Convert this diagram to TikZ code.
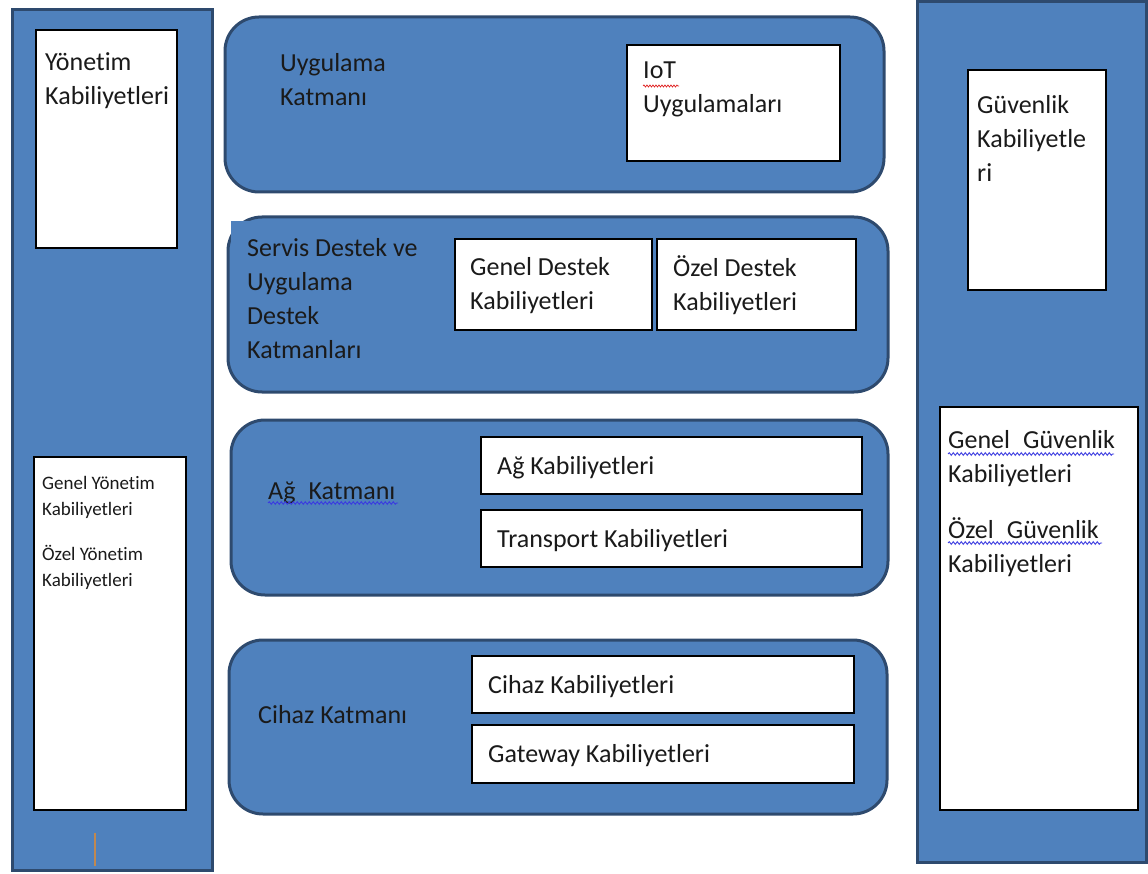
\documentclass[tikz,border=0pt]{standalone}
\usepackage{fontspec}
\setmainfont{Carlito}[Ligatures=NoCommon]
\usetikzlibrary{decorations.pathmorphing}
\definecolor{layerfill}{HTML}{4F81BD}
\definecolor{layerline}{HTML}{2E4A6E}
\definecolor{txtcol}{HTML}{1A1A1A}
\definecolor{spellblue}{HTML}{3A3AE0}
\definecolor{spellred}{HTML}{E02020}
\definecolor{cursorcol}{HTML}{C08850}
\tikzset{
  column/.style={draw=layerline, fill=layerfill, line width=3pt, inner sep=0pt},
  layer/.style={draw=layerline, fill=layerfill, line width=3pt, rounded corners=34pt, inner sep=0pt},
  wbox/.style={draw=black, fill=white, line width=1.3pt, inner sep=0pt},
  txt/.style={text=txtcol, inner sep=0pt, align=left, anchor=west, yshift=-5pt,
    font=\fontsize{26}{34}\selectfont,
    execute at begin node=\strut, execute at end node=\strut},
  otxt/.style={txt, yshift=2pt},
  stxt/.style={text=txtcol, inner sep=0pt, align=left, anchor=west, yshift=-4pt,
    font=\fontsize{19}{26}\selectfont,
    execute at begin node=\strut, execute at end node=\strut},
  spell/.style={decorate, decoration={snake, segment length=4pt, amplitude=1.3pt}, line width=0.9pt}
}
\begin{document}
\begin{tikzpicture}[x=1pt, y=-1pt]
\useasboundingbox (0,0) rectangle (1148,874);
% left management column
\node[column, minimum width=200, minimum height=860] (mgmt) at (112,440) {};
\node[wbox, minimum width=141, minimum height=218] (mgmtcap) at (106.5,139) {};
\node[wbox, minimum width=152, minimum height=353] (mgmtsub) at (110,633.5) {};
\node[txt] (tmgmt) at (45,79) {Yönetim\\Kabiliyetleri};
\node[stxt] (tmgmt1) at (42,496) {Genel Yönetim\\Kabiliyetleri};
\node[stxt] (tmgmt2) at (42,566) {Özel Yönetim\\Kabiliyetleri};
\coordinate (cura) at (95,833);
\coordinate (curb) at (95,866);
\draw[cursorcol, line width=1.3pt] (cura) -- (curb);

% right security column
\node[column, minimum width=229, minimum height=860] (sec) at (1031.5,432) {};
\node[wbox, minimum width=138, minimum height=220] (seccap) at (1037,180) {};
\node[wbox, minimum width=198, minimum height=403] (secsub) at (1039,608.5) {};
\node[txt] (tsec) at (977,138.5) {Güvenlik\\Kabiliyetle\\ri};
\node[txt] (tsec1) at (948,456.5) {Genel\hspace{0.5em}Güvenlik\\Kabiliyetleri};
\node[txt] (tsec2) at (948,545) {Özel\hspace{0.5em}Güvenlik\\Kabiliyetleri};
\draw[spell, spellblue] (948,454) -- (1114,454);
\draw[spell, spellblue] (948,543) -- (1102,543);

% application layer
\node[layer, minimum width=659, minimum height=175] (app) at (554.5,104.5) {};
\node[wbox, minimum width=213, minimum height=116] (iot) at (733.5,103) {};
\node[txt] (tapp) at (280,80) {Uygulama\\Katmanı};
\node[txt] (tiot) at (643,87.5) {IoT\\Uygulamaları};
\draw[spell, spellred, line width=0.7pt, decoration={snake, segment length=3pt, amplitude=1pt}] (643,86) -- (679,86);

% service support layer
\node[layer, minimum width=660, minimum height=175] (svc) at (558,304.5) {};
\fill[layerfill] (231,221) rectangle (252,242);
\node[wbox, minimum width=197, minimum height=91] (gsup) at (553.5,284.5) {};
\node[wbox, minimum width=199, minimum height=91] (ssup) at (756.5,284.5) {};
\node[txt] (tsvc) at (247,298.5) {Servis Destek ve\\Uygulama\\Destek\\Katmanları};
\node[txt] (tgsup) at (470,283.5) {Genel Destek\\Kabiliyetleri};
\node[txt] (tssup) at (673,283.5) {Özel Destek\\Kabiliyetleri};

% network layer
\node[layer, minimum width=657, minimum height=175] (net) at (559.5,507.5) {};
\node[wbox, minimum width=381, minimum height=57] (netcap) at (671.5,465.5) {};
\node[wbox, minimum width=381, minimum height=57] (trcap) at (671.5,538.5) {};
\node[otxt] (tnet) at (268,490) {Ağ\hspace{0.5em}Katmanı};
\draw[spell, spellblue] (268,503) -- (398,503);
\node[otxt] (tnetcap) at (497,465) {Ağ Kabiliyetleri};
\node[otxt] (ttrcap) at (497,538) {Transport Kabiliyetleri};

% device layer
\node[layer, minimum width=658, minimum height=174] (dev) at (558,727) {};
\node[wbox, minimum width=382, minimum height=57] (devcap) at (663,684.5) {};
\node[wbox, minimum width=382, minimum height=58] (gwcap) at (663,754) {};
\node[otxt] (tdev) at (258,714) {Cihaz Katmanı};
\node[otxt] (tdevcap) at (488,684) {Cihaz Kabiliyetleri};
\node[otxt] (tgwcap) at (488,753) {Gateway Kabiliyetleri};
\end{tikzpicture}
\end{document}
